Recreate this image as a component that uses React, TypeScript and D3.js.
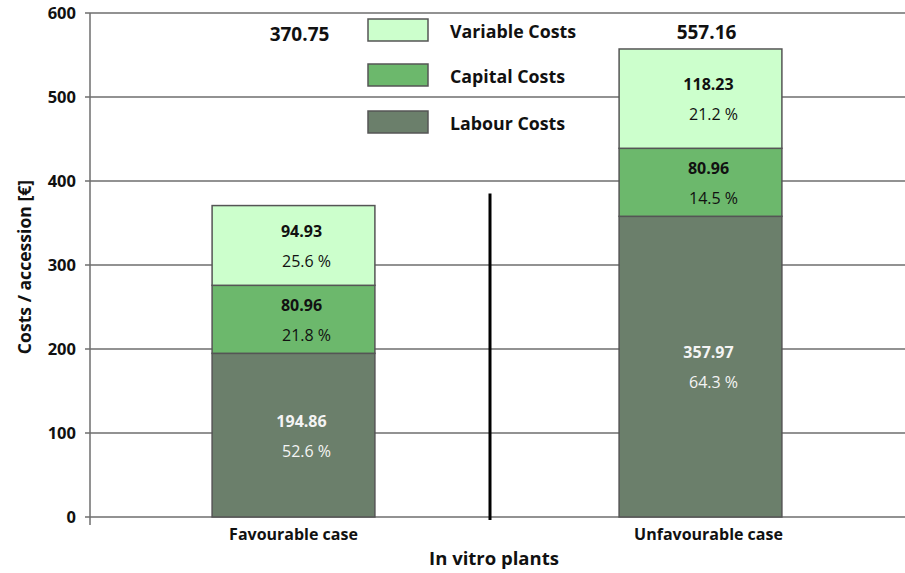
import React from "react";
import * as d3 from "d3";

const categories = ["Favourable case", "Unfavourable case"];
const seriesNames = ["Labour Costs", "Capital Costs", "Variable Costs"];
const labour = [194.86, 357.97];
const capital = [80.96, 80.96];
const variable = [94.93, 118.23];
const labourPct = ["52.6 %", "64.3 %"];
const capitalPct = ["21.8 %", "14.5 %"];
const variablePct = ["25.6 %", "21.2 %"];
const totals = ["370.75", "557.16"];
const yTicks = [0, 100, 200, 300, 400, 500, 600];
const dividerTop = 385;

const colors = ["#6b7f6b", "#6cb86c", "#ccffcc"];
const textColors = ["#f4f4f4", "#111", "#111"];
const FONT = "'Open Sans', Lato, sans-serif";

export default function App() {
  const W = 905, H = 573;
  const left = 90, right = 904, top = 13, bottom = 517;
  const x = d3.scaleBand<string>().domain(categories).range([left, right]).paddingInner(0.6).paddingOuter(0.3);
  const y = d3.scaleLinear().domain([0, 600]).range([bottom, top]);

  const rows = categories.map((c, i) => ({ cat: c, "Labour Costs": labour[i], "Capital Costs": capital[i], "Variable Costs": variable[i] }));
  const stack = d3.stack<any>().keys(seriesNames)(rows);
  const pcts = [labourPct, capitalPct, variablePct];
  const vals = [labour, capital, variable];

  const legendY = [30, 75, 122];
  const legendOrder = [2, 1, 0];
  const totalY = [34, 32];
  const totalDx = [6, 6];

  return (
    <svg width={W} height={H} style={{ position: "absolute", left: 0, top: 0, background: "#fff" }} fontFamily={FONT}>
      {yTicks.map((t) => (
        <g key={t}>
          <line x1={left} x2={right + 1} y1={y(t)} y2={y(t)} stroke="#6e6e6e" strokeWidth={1.5} />
          <line x1={left - 5} x2={left} y1={y(t)} y2={y(t)} stroke="#6e6e6e" strokeWidth={1.5} />
          <text x={76} y={y(t)} dy="0.35em" textAnchor="end" fontSize={16.5} fontWeight="bold" fill="#111">{t}</text>
        </g>
      ))}
      <line x1={left} x2={left} y1={top} y2={bottom + 8} stroke="#6e6e6e" strokeWidth={1.5} />

      {stack.map((layer, si) => (
        <g key={si}>
          {layer.map((d, ci) => {
            const cat = categories[ci];
            const bx = x(cat)!;
            const y0 = y(d[0]), y1 = y(d[1]);
            const mid = (y0 + y1) / 2;
            const cx = bx + x.bandwidth() / 2;
            return (
              <g key={ci}>
                <rect x={bx} y={y1} width={x.bandwidth()} height={y0 - y1} fill={colors[si]} stroke="#555" strokeWidth={1.5} />
                <text x={cx + 8} y={mid - 14} dy="0.35em" textAnchor="middle" fontSize={16} fontWeight="bold" fill={textColors[si]}>{vals[si][ci].toFixed(2)}</text>
                <text x={cx + 13} y={mid + 16} dy="0.35em" textAnchor="middle" fontSize={16} fill={textColors[si]}>{pcts[si][ci]}</text>
              </g>
            );
          })}
        </g>
      ))}

      {categories.map((c, i) => (
        <text key={c} x={x(c)! + x.bandwidth() / 2 + 8 * i} y={534} dy="0.35em" textAnchor="middle" fontSize={16} fontWeight="bold" fill="#111">{c}</text>
      ))}
      {categories.map((c, i) => (
        <text key={"t" + c} x={x(c)! + x.bandwidth() / 2 + totalDx[i]} y={totalY[i]} dy="0.35em" textAnchor="middle" fontSize={19} fontWeight="bold" fill="#111">{totals[i]}</text>
      ))}

      <line x1={490} x2={490} y1={y(dividerTop)} y2={bottom + 3} stroke="#000" strokeWidth={3} />

      {legendOrder.map((si, k) => (
        <g key={si}>
          <rect x={368} y={legendY[k] - 11} width={60} height={22} fill={colors[si]} stroke="#555" strokeWidth={1.5} />
          <text x={450} y={legendY[k] + 2} dy="0.35em" fontSize={17.8} fontWeight="bold" fill="#111">{seriesNames[si]}</text>
        </g>
      ))}

      <text transform={`translate(25,${267}) rotate(-90)`} textAnchor="middle" dy="0.35em" fontSize={17.6} fontWeight="bold" fill="#111">Costs / accession [€]</text>
      <text x={494} y={559} dy="0.35em" textAnchor="middle" fontSize={18.5} fontWeight="bold" fill="#111">In vitro plants</text>
    </svg>
  );
}
